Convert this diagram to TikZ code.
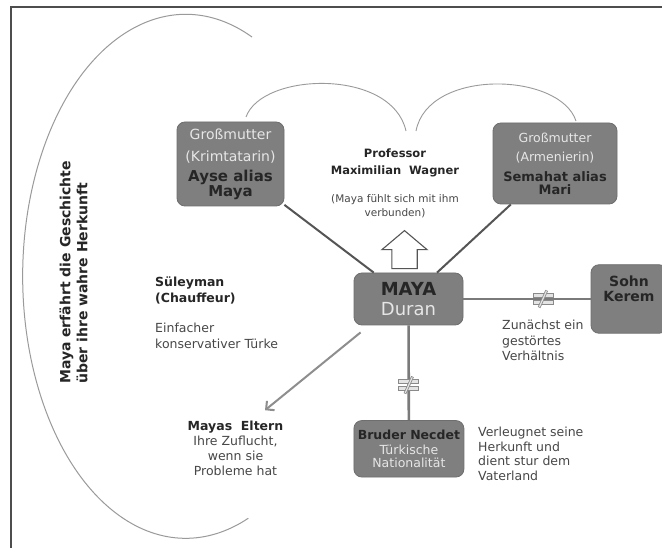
\documentclass[tikz,border=0pt]{standalone}
\usepackage{fontspec}
\setmainfont{DejaVu Sans}
\usetikzlibrary{arrows.meta}
\definecolor{boxfill}{HTML}{7F7F7F}
\definecolor{boxline}{HTML}{6E6E6E}
\definecolor{lighttext}{HTML}{E6E6E6}
\definecolor{darktext}{HTML}{262626}
\definecolor{bodytext}{HTML}{474747}
\definecolor{arcgray}{HTML}{9A9A9A}
\definecolor{linkgray}{HTML}{555555}
\definecolor{link2gray}{HTML}{7A7A7A}
\definecolor{arrowgray}{HTML}{8E8E8E}
\definecolor{framegray}{HTML}{4D4D4D}
\definecolor{neqfill}{HTML}{E4E4E4}
\definecolor{neqline}{HTML}{8A8A8A}
\newcommand{\fsz}[2]{\fontsize{#1}{#2}\selectfont}
\newcommand{\neqmark}[1]{%
  \filldraw[fill=neqfill, draw=neqline, line width=0.8pt] ([shift={(-10,-5.5)}]#1) rectangle ([shift={(10,-1.5)}]#1);
  \filldraw[fill=neqfill, draw=neqline, line width=0.8pt] ([shift={(-10,1.5)}]#1) rectangle ([shift={(10,5.5)}]#1);
  \draw[neqline, line width=2.8pt] ([shift={(3.8,-8.5)}]#1) -- ([shift={(-3.8,8.5)}]#1);
  \draw[neqfill, line width=1.2pt] ([shift={(3.5,-7.8)}]#1) -- ([shift={(-3.5,7.8)}]#1);
}
\begin{document}
\begin{tikzpicture}[x=1pt,y=-1pt,
  box/.style={draw=boxline, fill=boxfill, rounded corners=8pt, align=center, inner sep=0pt, line width=0.8pt},
  plain/.style={inner sep=0pt, text=bodytext},
  link/.style={draw=linkgray, line width=2pt},
  link2/.style={draw=link2gray, line width=2.6pt},
  heart/.style={draw=arcgray, line width=0.9pt},
  lt/.style={color=lighttext},
  dk/.style={color=darktext}
]
\useasboundingbox (0,0) rectangle (662,548);
\clip (0,0) rectangle (662,548);
\fill[white] (0,0) rectangle (662,548);

% frame
\draw[framegray, line width=1.5pt] (11,548) -- (11,7) -- (662,7);

% big left arc
\draw[arcgray, line width=1pt] (252,37) arc[start angle=-66, end angle=-292.6, x radius=163, y radius=262];

% heart arcs
\draw[heart] (246,117) .. controls (262,72) and (392,68) .. (406,131);
\draw[heart] (416,131) .. controls (428,68) and (560,72) .. (576,121);

% rotated text
\node[rotate=90, align=left, inner sep=0pt, font=\bfseries\fsz{14}{17}, text=darktext] (story) at (73.5,272.5)
  {Maya erfährt die Geschichte\\über ihre wahre Herkunft};

% boxes
\node[box, minimum width=107pt, minimum height=84pt, font=\fsz{14}{15}] (ayse) at (230.5,164)
  {\textcolor{lighttext}{Großmutter}\\[7pt]\textcolor{lighttext}{(Krimtatarin)}\\[5pt]{\bfseries\color{darktext}\fsz{15}{15}Ayse alias}\\{\bfseries\color{darktext}\fsz{15}{15}Maya}};

\node[box, minimum width=124pt, minimum height=81pt, font=\fsz{12.5}{13}] (semahat) at (555,163.5)
  {\textcolor{lighttext}{Großmutter}\\[6pt]\textcolor{lighttext}{(Armenierin)}\\[7pt]{\bfseries\color{darktext}\fsz{13}{13}Semahat alias}\\{\bfseries\color{darktext}\fsz{13}{13}Mari}};

\node[box, minimum width=109pt, minimum height=52pt, font=\fsz{18}{20.5}] (maya) at (408.5,299)
  {{\bfseries\color{darktext}MAYA}\\\textcolor{lighttext}{Duran}};

\node[box, minimum width=76pt, minimum height=68.5pt, font=\bfseries\fsz{14}{15}, text=darktext] (kerem) at (629,299)
  {Sohn\\Kerem\\[6pt]\mbox{}};

\node[box, minimum width=110pt, minimum height=56.5pt, font=\fsz{12.5}{14}] (bruder) at (408.9,448.8)
  {{\bfseries\color{darktext}Bruder Necdet}\\[1pt]\textcolor{lighttext}{Türkische}\\[-1pt]\textcolor{lighttext}{Nationalität}};

% free texts
\node[plain, align=center, font=\fsz{10.5}{14}] (prof) at (395,183.5)
  {{\bfseries\color{darktext}\fsz{11.5}{14}Professor}\\[2.5pt]{\bfseries\color{darktext}\fsz{11.5}{14}Maximilian\ \ Wagner}\\[14.5pt](Maya fühlt sich mit ihm\\verbunden)};

\node[plain, align=left, anchor=west, font=\fsz{12.5}{15.5}] (sul) at (155,313)
  {{\bfseries\color{darktext}Süleyman}\\{\bfseries\color{darktext}(Chauffeur)}\\[15pt]Einfacher\\konservativer Türke};

\node[plain, align=left, anchor=west, font=\fsz{12.5}{15.5}] (zun) at (502,340.5)
  {Zunächst ein\\gestörtes\\Verhältnis};

\node[plain, align=left, anchor=west, font=\fsz{12.5}{14.8}] (verl) at (478,453.8)
  {Verleugnet seine\\Herkunft und\\dient stur dem\\Vaterland};

\node[plain, align=center, font=\fsz{12.5}{15.1}] (eltern) at (235.5,448.4)
  {{\bfseries\color{darktext}Mayas\ \ Eltern}\\Ihre Zuflucht,\\wenn sie\\Probleme hat};

% connectors
\draw[link] (maya) -- (ayse);
\draw[link] (maya) -- (semahat);
\draw[link2] (maya) -- coordinate[pos=0.625] (ne1) (kerem);
\draw[link2] (maya) -- coordinate[pos=0.63] (ne2) (bruder);
\neqmark{ne1}
\neqmark{ne2}

\coordinate (a1) at ([shift={(7,7)}]maya.south west);
\coordinate (a2) at ([shift={(29.5,-10.5)}]eltern.north);
\draw[arrowgray, line width=2pt, -{Straight Barb[length=6pt,width=12pt]}] (a1) -- (a2);

% hollow arrow towards professor
\coordinate (hb) at ([shift={(-4,-4)}]maya.north);
\draw[draw=linkgray, fill=white, line width=1.1pt, line join=miter]
  ([shift={(-12.7,0)}]hb) -- ([shift={(-12.7,-19)}]hb) -- ([shift={(-22.5,-19)}]hb) --
  ([shift={(0,-38)}]hb) -- ([shift={(22.5,-19)}]hb) -- ([shift={(12.7,-19)}]hb) --
  ([shift={(12.7,0)}]hb) -- cycle;
\end{tikzpicture}
\end{document}
